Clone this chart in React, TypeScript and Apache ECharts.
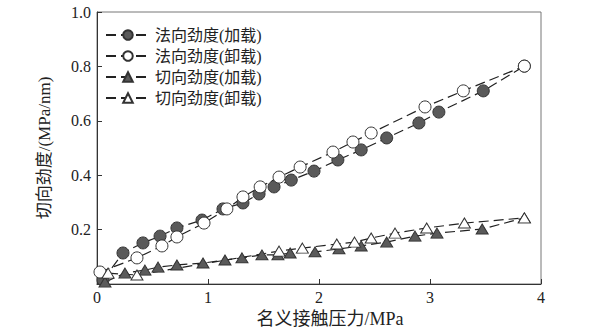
import React, { useEffect, useRef } from "react";
import * as echarts from "echarts";

const seriesNames = ["法向劲度(加载)", "法向劲度(卸载)", "切向劲度(加载)", "切向劲度(卸载)"];

const normalLoadX = [0.054, 0.234, 0.414, 0.568, 0.72, 0.946, 1.135, 1.315, 1.46, 1.595, 1.75, 1.955, 2.17, 2.38, 2.61, 2.9, 3.08, 3.48, 3.85];
const normalLoadY = [0.015, 0.114, 0.151, 0.176, 0.206, 0.235, 0.276, 0.298, 0.331, 0.357, 0.382, 0.415, 0.456, 0.493, 0.537, 0.592, 0.632, 0.71, 0.801];

const normalUnloadX = [0.027, 0.36, 0.585, 0.72, 0.964, 1.17, 1.315, 1.47, 1.64, 1.83, 2.126, 2.306, 2.47, 2.955, 3.3, 3.85];
const normalUnloadY = [0.044, 0.096, 0.14, 0.173, 0.224, 0.276, 0.32, 0.357, 0.393, 0.43, 0.485, 0.522, 0.555, 0.651, 0.71, 0.801];

const shearLoadX = [0.072, 0.252, 0.432, 0.55, 0.72, 0.955, 1.153, 1.306, 1.486, 1.63, 1.74, 1.964, 2.18, 2.38, 2.61, 2.865, 3.063, 3.47, 3.85];
const shearLoadY = [0.007, 0.04, 0.051, 0.062, 0.07, 0.077, 0.088, 0.096, 0.107, 0.107, 0.114, 0.118, 0.129, 0.14, 0.154, 0.176, 0.187, 0.202, 0.243];

const shearUnloadX = [0.1, 0.36, 1.64, 1.85, 2.16, 2.32, 2.47, 2.685, 2.97, 3.31, 3.85];
const shearUnloadY = [0.04, 0.033, 0.121, 0.132, 0.147, 0.154, 0.169, 0.187, 0.206, 0.224, 0.243];

const xTicks = [0, 1, 2, 3, 4];
const yTicks = [0, 0.2, 0.4, 0.6, 0.8, 1.0];

const zip = (xs: number[], ys: number[]) => xs.map((x, i) => [x, ys[i]]);

const FONT = "'Liberation Serif', 'DejaVu Serif', 'Noto Sans CJK SC', serif";

export default function App() {
  const ref = useRef<HTMLDivElement>(null);
  useEffect(() => {
    if (!ref.current) return;
    const chart = echarts.init(ref.current, undefined, { renderer: "svg" });
    const lineStyle = { color: "#222", width: 1.2, type: [10, 5] as any };
    const mk = (
      name: string,
      data: number[][],
      symbol: string,
      size: number | number[],
      fill: string
    ) => ({
      name,
      type: "line",
      data,
      symbol,
      symbolSize: size,
      showSymbol: true,
      lineStyle,
      itemStyle: { color: fill, borderColor: "#333", borderWidth: 1 },
      z: 2,
    });
    chart.setOption({
      animation: false,
      backgroundColor: "#fff",
      grid: {
        left: 97,
        top: 12,
        width: 444,
        height: 272,
        show: true,
        borderColor: "#777",
        borderWidth: 1,
        backgroundColor: "transparent",
      },
      legend: {
        orient: "vertical",
        left: 100,
        top: 22,
        itemWidth: 44,
        itemHeight: 12,
        itemGap: 5,
        textStyle: { fontFamily: FONT, fontSize: 16, color: "#222" },
        data: seriesNames,
      },
      xAxis: {
        type: "value",
        min: xTicks[0],
        max: xTicks[xTicks.length - 1],
        interval: 1,
        name: "名义接触压力/MPa",
        nameLocation: "middle",
        nameGap: 19,
        nameTextStyle: { fontFamily: FONT, fontSize: 18, color: "#222", padding: [0, 0, 0, 22] },
        axisLine: { lineStyle: { color: "#333", width: 1 } },
        axisTick: { inside: true, length: 5, lineStyle: { color: "#333" } },
        axisLabel: {
          fontFamily: FONT,
          fontSize: 16,
          color: "#222",
          margin: 5,
          formatter: (v: number) => String(v),
        },
        splitLine: { show: false },
      },
      yAxis: {
        type: "value",
        min: yTicks[0],
        max: yTicks[yTicks.length - 1],
        interval: 0.2,
        name: "切向劲度/(MPa/nm)",
        nameLocation: "middle",
        nameGap: 44,
        nameRotate: 90,
        nameTextStyle: { fontFamily: FONT, fontSize: 17, color: "#222", padding: [0, 0, 0, 0] },
        axisLine: { show: true, lineStyle: { color: "#333", width: 1 } },
        axisTick: { show: true, inside: true, length: 5, lineStyle: { color: "#333" } },
        axisLabel: {
          fontFamily: FONT,
          fontSize: 16,
          color: "#222",
          margin: 6,
          formatter: (v: number) => (v === 0 ? "" : v.toFixed(1)),
        },
        splitLine: { show: false },
      },
      series: [
        mk(seriesNames[0], zip(normalLoadX, normalLoadY), "circle", 12, "#5a5a5a"),
        mk(seriesNames[1], zip(normalUnloadX, normalUnloadY), "circle", 12, "#fff"),
        mk(seriesNames[2], zip(shearLoadX, shearLoadY), "triangle", [12, 10], "#5a5a5a"),
        mk(seriesNames[3], zip(shearUnloadX, shearUnloadY), "triangle", [12, 10], "#fff"),
      ],
    });
    return () => chart.dispose();
  }, []);
  return (
    <div
      ref={ref}
      style={{ position: "fixed", left: 0, top: 0, width: 600, height: 333, background: "#fff" }}
    />
  );
}
